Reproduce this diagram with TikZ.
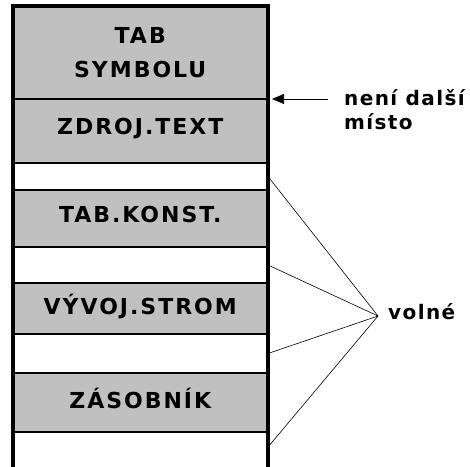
\documentclass[tikz,border=0pt]{standalone}
\usepackage{fontspec}
\setmainfont{DejaVu Sans}
\usepackage{tikz}
\usetikzlibrary{positioning, arrows.meta}

\definecolor{boxgray}{RGB}{192,192,192}
\newfontfamily\rowfont[LetterSpace=9]{DejaVu Sans Bold}
\newfontfamily\notefont[LetterSpace=7]{DejaVu Sans Bold}

\begin{document}
\begin{tikzpicture}[x=1pt, y=-1pt, node distance=0pt,
		row/.style={minimum width=255.5pt, inner sep=0pt, outer sep=0pt, draw=black, line width=1.5pt, text depth=9pt, font=\rowfont\fontsize{22}{34.5}\selectfont},
		used/.style={row, fill=boxgray},
		free/.style={row, fill=white},
		note/.style={inner sep=0pt, align=left, font=\notefont\fontsize{20}{24}\selectfont},
		thin line/.style={line width=0.6pt}]
		\useasboundingbox (0,0) rectangle (470,466);
		
		% memory blocks, top to bottom
		\node[used, minimum height=93pt, anchor=north west, align=center, text depth=0pt] (symb) at (12.5,6) {TAB\\SYMBOLU};
		\node[used, minimum height=64pt, below=of symb] (zdroj) {ZDROJ.TEXT};
		\node[free, minimum height=27pt, below=of zdroj] (slota) {};
		\node[used, minimum height=57pt, below=of slota] (konst) {TAB.KONST.};
		\node[free, minimum height=36pt, below=of konst] (slotb) {};
		\node[used, minimum height=51pt, below=of slotb] (vyvoj) {VÝVOJ.STROM};
		\node[free, minimum height=39pt, below=of vyvoj] (slotc) {};
		\node[used, minimum height=59pt, below=of slotc] (zasob) {ZÁSOBNÍK};
		\node[free, minimum height=50pt, below=of zasob] (slotd) {};
		
		% labels on the right
		\coordinate (tail) at (328,99);
		\node[note, anchor=north west] (dalsi) at (344,89) {není další\\místo};
		\node[note, anchor=west] (volne) at (388,312) {volné};
		\coordinate (hub) at (378,316);
		
		\draw[thin line, -{Triangle[length=12pt, width=10pt]}] (tail) -- ([xshift=4pt]zdroj.north east);
		\foreach \s in {slota, slotb, slotc}
			\draw[thin line] (\s.east) -- (hub);
		\draw[thin line] ([yshift=-15pt]slotd.north east) -- (hub);
		
		% outer frame
		\draw[line width=4pt] (slotd.south west) -- (symb.north west) -- (symb.north east) -- (slotd.south east);
\end{tikzpicture}
\end{document}
